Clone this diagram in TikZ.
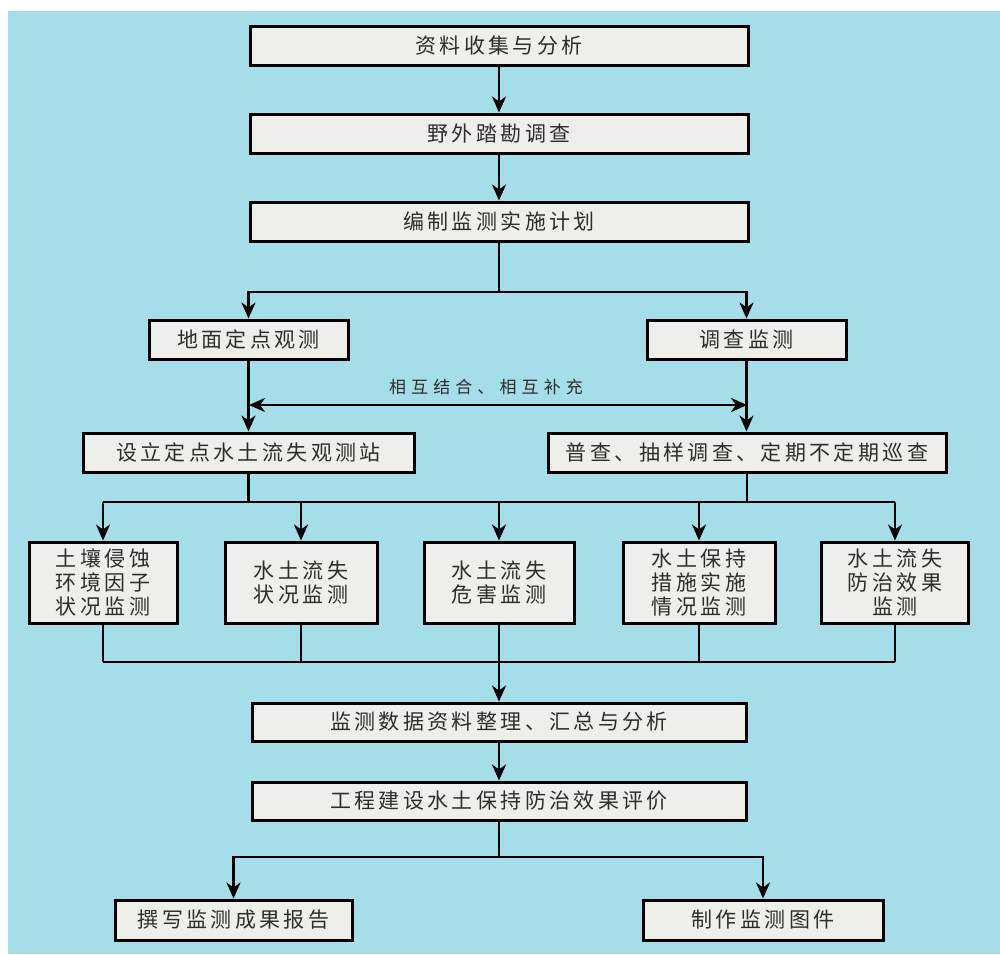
\documentclass[tikz,border=0pt]{standalone}
\usepackage{fontspec}
\usetikzlibrary{arrows.meta}
\newfontfamily\cjk[LetterSpace=16]{Noto Sans CJK SC}
\newfontfamily\cjksmall[LetterSpace=30]{Noto Sans CJK SC}
\definecolor{bgblue}{RGB}{165,221,233}
\definecolor{boxfill}{RGB}{238,238,234}
\definecolor{txt}{RGB}{45,45,45}
\tikzset{
  stepbox/.style={draw=black, line width=1.5pt, fill=boxfill, text=txt, inner sep=0pt,
    font=\cjk\fontsize{10.5}{12}\selectfont, align=center},
  conn/.style={line width=1.2pt, draw=black, line join=miter},
  arr/.style={conn, -{Stealth[length=8pt,width=7pt,inset=2.5pt]}},
  darr/.style={conn, {Stealth[length=8pt,width=7pt,inset=2.5pt]}-{Stealth[length=8pt,width=7pt,inset=2.5pt]}},
}
\begin{document}
\begin{tikzpicture}[x=0.5pt,y=-0.5pt]
\useasboundingbox (0,0) rectangle (1000,954);
\fill[white] (0,0) rectangle (1000,954);
\fill[bgblue] (8,11) rectangle (1000,954);

% top chain
\node[stepbox, minimum width=249pt, minimum height=19.5pt] (b1) at (499,45.5) {资料收集与分析};
\node[stepbox, minimum width=249pt, minimum height=19.5pt] (b2) at (499,133.5) {野外踏勘调查};
\node[stepbox, minimum width=249pt, minimum height=19.5pt] (b3) at (499,221.5) {编制监测实施计划};

\node[stepbox, minimum width=99.5pt, minimum height=19.5pt] (b4) at (248.5,339.5) {地面定点观测};
\node[stepbox, minimum width=99.5pt, minimum height=19.5pt] (b5) at (746.5,339.5) {调查监测};

\node[stepbox, minimum width=165.5pt, minimum height=19.5pt] (b6) at (248.5,452.5) {设立定点水土流失观测站};
\node[stepbox, minimum width=199pt, minimum height=19.5pt] (b7) at (747,452.5) {普查、抽样调查、定期不定期巡查};

% five monitoring boxes
\node[stepbox, minimum width=74pt, minimum height=40.5pt] (ma) at (103,582.5) {土壤侵蚀\\环境因子\\状况监测};
\node[stepbox, minimum width=76pt, minimum height=40.5pt] (mb) at (301,582.5) {水土流失\\状况监测};
\node[stepbox, minimum width=75pt, minimum height=40.5pt] (mc) at (499,582.5) {水土流失\\危害监测};
\node[stepbox, minimum width=76pt, minimum height=40.5pt] (md) at (699,582.5) {水土保持\\措施实施\\情况监测};
\node[stepbox, minimum width=73.5pt, minimum height=40.5pt] (me) at (895,582.5) {水土流失\\防治效果\\监测};

% bottom chain
\node[stepbox, minimum width=247pt, minimum height=19pt] (b8) at (499,722) {监测数据资料整理、汇总与分析};
\node[stepbox, minimum width=247pt, minimum height=19pt] (b9) at (499,801) {工程建设水土保持防治效果评价};
\node[stepbox, minimum width=118.5pt, minimum height=20pt] (b10) at (233.5,920) {撰写监测成果报告};
\node[stepbox, minimum width=120pt, minimum height=20pt] (b11) at (763,920) {制作监测图件};

% junction coordinates
\coordinate (j1) at (499,292);
\coordinate (m1) at (249,405);
\coordinate (m2) at (747,405);
\coordinate (j2) at (103,502);
\coordinate (j3) at (895,502);
\coordinate (j4) at (103,662);
\coordinate (j5) at (895,662);
\coordinate (j6) at (499,857);

% connectors
\draw[arr] (b1) -- (b2);
\draw[arr] (b2) -- (b3);
\draw[conn] (b3) -- (j1);
\draw[arr] (j1) -| (b4.north);
\draw[arr] (j1) -| (b5.north);
\draw[arr] (b4.south) -- (b4.south |- b6.north);
\draw[arr] (b5.south) -- (b5.south |- b7.north);
\draw[darr] (m1) -- (m2) node[midway, above=1pt, xshift=-6pt, text=txt, font=\cjksmall\fontsize{8.5}{10}\selectfont] (lab) {相互结合、相互补充};

\draw[conn] (b6.south) -- (b6.south |- j2);
\draw[conn] (b7.south) -- (b7.south |- j2);
\draw[conn] (j2) -- (j3);
\draw[arr] (j2) -- (ma);
\draw[arr] (mb.north |- j2) -- (mb);
\draw[arr] (mc.north |- j2) -- (mc);
\draw[arr] (md.north |- j2) -- (md);
\draw[arr] (j3) -- (me);

\draw[conn] (ma) -- (j4);
\draw[conn] (mb) -- (mb.south |- j4);
\draw[conn] (mc) -- (mc.south |- j4);
\draw[conn] (md) -- (md.south |- j4);
\draw[conn] (me) -- (j5);
\draw[conn] (j4) -- (j5);
\draw[arr] (mc.south |- j4) -- (b8);
\draw[arr] (b8) -- (b9);
\draw[conn] (b9) -- (j6);
\draw[arr] (j6) -| (b10.north);
\draw[arr] (j6) -| (b11.north);
\end{tikzpicture}
\end{document}
